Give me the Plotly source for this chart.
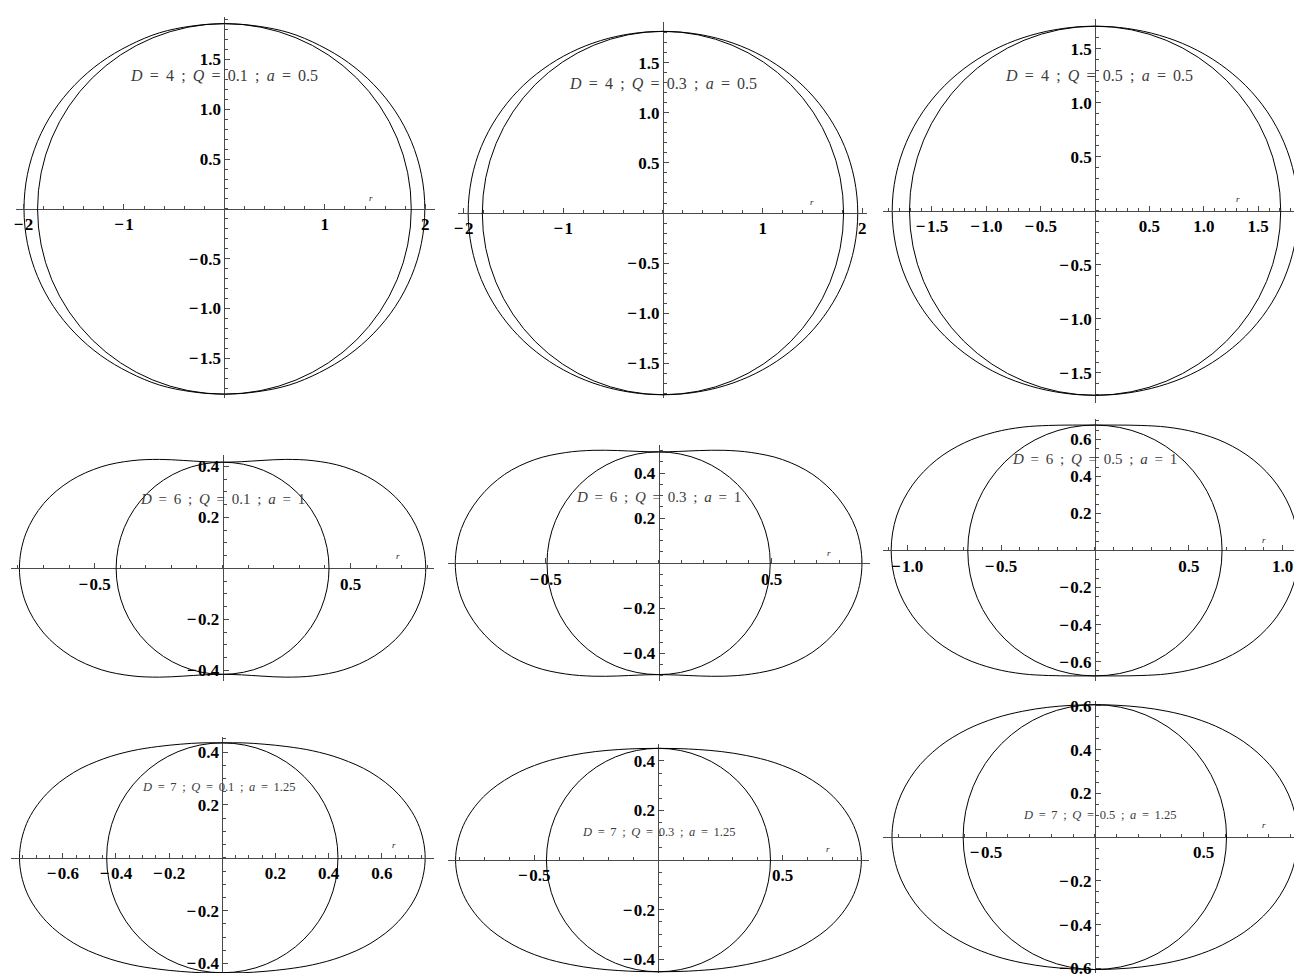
import plotly.graph_objects as go

# ---------------- data ----------------
D_VALUES = ["4", "4", "4", "6", "6", "6", "7", "7", "7"]
Q_VALUES = ["0.1", "0.3", "0.5", "0.1", "0.3", "0.5", "0.1", "0.3", "0.5"]
A_VALUES = ["0.5", "0.5", "0.5", "1", "1", "1", "1.25", "1.25", "1.25"]

# horizon (circle) radius per panel
HORIZON_R = [1.860, 1.812, 1.707, 0.416, 0.494, 0.677, 0.435, 0.451, 0.605]

# outer surface, first quadrant, from the pole (x=0) to the equator (y=0)
ERGO_X_1 = [0, 0.324, 0.644, 0.948, 1.233, 1.487, 1.700, 1.861, 1.961, 1.995]
ERGO_Y_1 = [1.860, 1.836, 1.769, 1.642, 1.470, 1.248, 0.982, 0.677, 0.346, 0]
ERGO_X_2 = [0, 0.316, 0.626, 0.925, 1.204, 1.454, 1.663, 1.822, 1.920, 1.954]
ERGO_Y_2 = [1.812, 1.789, 1.720, 1.602, 1.435, 1.220, 0.960, 0.663, 0.339, 0]
ERGO_X_3 = [0, 0.297, 0.591, 0.875, 1.142, 1.382, 1.584, 1.737, 1.833, 1.866]
ERGO_Y_3 = [1.707, 1.686, 1.623, 1.516, 1.361, 1.160, 0.915, 0.632, 0.323, 0]
ERGO_X_4 = [0, 0.074, 0.154, 0.247, 0.354, 0.474, 0.595, 0.699, 0.769, 0.794]
ERGO_Y_4 = [0.416, 0.418, 0.423, 0.427, 0.422, 0.398, 0.343, 0.254, 0.136, 0]
ERGO_X_5 = [0, 0.087, 0.182, 0.290, 0.412, 0.548, 0.682, 0.795, 0.873, 0.900]
ERGO_Y_5 = [0.494, 0.496, 0.500, 0.501, 0.491, 0.460, 0.394, 0.289, 0.154, 0]
ERGO_X_6 = [0, 0.119, 0.246, 0.384, 0.536, 0.694, 0.845, 0.971, 1.056, 1.085]
ERGO_Y_6 = [0.677, 0.677, 0.675, 0.666, 0.638, 0.582, 0.488, 0.354, 0.186, 0]
ERGO_X_7 = [0, 0.077, 0.157, 0.243, 0.340, 0.446, 0.559, 0.662, 0.736, 0.763]
ERGO_Y_7 = [0.435, 0.435, 0.430, 0.421, 0.405, 0.375, 0.323, 0.241, 0.130, 0]
ERGO_X_8 = [0, 0.079, 0.162, 0.253, 0.354, 0.468, 0.590, 0.704, 0.786, 0.817]
ERGO_Y_8 = [0.451, 0.450, 0.446, 0.438, 0.422, 0.393, 0.340, 0.256, 0.139, 0]
ERGO_X_9 = [0, 0.106, 0.216, 0.332, 0.456, 0.587, 0.715, 0.827, 0.904, 0.932]
ERGO_Y_9 = [0.605, 0.602, 0.593, 0.575, 0.544, 0.492, 0.413, 0.301, 0.159, 0]

ERGO_X = [ERGO_X_1, ERGO_X_2, ERGO_X_3, ERGO_X_4, ERGO_X_5, ERGO_X_6, ERGO_X_7, ERGO_X_8, ERGO_X_9]
ERGO_Y = [ERGO_Y_1, ERGO_Y_2, ERGO_Y_3, ERGO_Y_4, ERGO_Y_5, ERGO_Y_6, ERGO_Y_7, ERGO_Y_8, ERGO_Y_9]

# tick values / labels
X_TICKS = [
    [-2, -1, 1, 2], [-2, -1, 1, 2], [-1.5, -1.0, -0.5, 0.5, 1.0, 1.5],
    [-0.5, 0.5], [-0.5, 0.5], [-1.0, -0.5, 0.5, 1.0],
    [-0.6, -0.4, -0.2, 0.2, 0.4, 0.6], [-0.5, 0.5], [-0.5, 0.5],
]
X_TICK_FMT = ["{:.0f}", "{:.0f}", "{:.1f}", "{:.1f}", "{:.1f}", "{:.1f}", "{:.1f}", "{:.1f}", "{:.1f}"]
X_MINOR_STEP = [0.2, 0.2, 0.1, 0.1, 0.1, 0.1, 0.05, 0.1, 0.1]
Y_TICKS = [
    [-1.5, -1.0, -0.5, 0.5, 1.0, 1.5], [-1.5, -1.0, -0.5, 0.5, 1.0, 1.5], [-1.5, -1.0, -0.5, 0.5, 1.0, 1.5],
    [-0.4, -0.2, 0.2, 0.4], [-0.4, -0.2, 0.2, 0.4], [-0.6, -0.4, -0.2, 0.2, 0.4, 0.6],
    [-0.4, -0.2, 0.2, 0.4], [-0.4, -0.2, 0.2, 0.4], [-0.6, -0.4, -0.2, 0.2, 0.4, 0.6],
]
Y_MINOR_STEP = [0.1, 0.1, 0.1, 0.05, 0.05, 0.05, 0.05, 0.05, 0.05]

# ---------------- layout geometry ----------------
W, H = 1294, 978
GEOM = [
    dict(px=(12, 432), py=(13, 398), xr=(-2.075, 2.093), yr=(-1.902, 1.928)),
    dict(px=(455, 866), py=(18, 398), xr=(-2.06, 2.05), yr=(-1.848, 1.907)),
    dict(px=(882, 1294), py=(15, 403), xr=(-1.948, 1.829), yr=(-1.781, 1.775)),
    dict(px=(7, 431), py=(455, 683), xr=(-0.827, 0.825), yr=(-0.441, 0.445)),
    dict(px=(445, 869), py=(445, 683), xr=(-0.934, 0.937), yr=(-0.521, 0.525)),
    dict(px=(882, 1294), py=(419, 683), xr=(-1.127, 1.060), yr=(-0.703, 0.709)),
    dict(px=(7, 431), py=(740, 978), xr=(-0.795, 0.795), yr=(-0.436, 0.4565)),
    dict(px=(445, 868), py=(747, 978), xr=(-0.849, 0.849), yr=(-0.456, 0.468)),
    dict(px=(882, 1294), py=(703, 978), xr=(-0.972, 0.915), yr=(-0.621, 0.624)),
]
LABEL_POS = [(0, 1.344), (0, 1.29), (0.04, 1.247), (0, 0.271), (0, 0.295), (0, 0.493),
             (-0.015, 0.269), (0, 0.113), (0.02, 0.102)]
LABEL_SIZE = [16, 16, 16, 15, 15, 15, 12.5, 12.5, 12.5]
R_POS = [(1.46, 0.11), (1.5, 0.11), (1.31, 0.11), (0.684, 0.05), (0.756, 0.046), (0.899, 0.059),
         (0.647, 0.047), (0.683, 0.043), (0.778, 0.057)]

MINUS = "\u2212"
SERIF = "Liberation Serif"
AXIS_COLOR = "#4a4a4a"
SP = "\u00a0\u2009"


def closed_loop(xs, ys):
    q1x, q1y = list(xs), list(ys)
    q4x = list(xs[::-1])[1:]
    q4y = [-v for v in ys[::-1]][1:]
    q3x = [-v for v in xs][1:]
    q3y = [-v for v in ys][1:]
    q2x = [-v for v in xs[::-1]][1:]
    q2y = list(ys[::-1])[1:]
    return q1x + q4x + q3x + q2x, q1y + q4y + q3y + q2y


def fmt(v, f):
    s = f.format(abs(v))
    return (MINUS + "\u200a" + s) if v < 0 else s


def minor_vals(lo, hi, step):
    vals = []
    k = int(lo / step) - 1
    while k * step <= hi + 1e-9:
        v = round(k * step, 6)
        if lo <= v <= hi:
            vals.append(v)
        k += 1
    return vals


fig = go.Figure()
shapes = []
annotations = []
layout = {}

for i in range(9):
    g = GEOM[i]
    n = "" if i == 0 else str(i + 1)
    xa, ya = "x" + n, "y" + n
    xdom = [g["px"][0] / W, g["px"][1] / W]
    ydom = [1 - g["py"][1] / H, 1 - g["py"][0] / H]
    x0, x1 = g["xr"]
    y0, y1 = g["yr"]
    xpos = ydom[0] + (0 - y0) / (y1 - y0) * (ydom[1] - ydom[0])
    ypos = xdom[0] + (0 - x0) / (x1 - x0) * (xdom[1] - xdom[0])

    tickfont = dict(family=SERIF, size=17, color="black", weight="bold")
    layout["xaxis" + n] = dict(
        domain=xdom, range=[x0, x1], anchor="free", position=xpos,
        showgrid=False, zeroline=False, showline=True, linecolor=AXIS_COLOR, linewidth=1,
        ticks="inside", ticklen=5, tickwidth=1, tickcolor=AXIS_COLOR,
        tickmode="array", tickvals=X_TICKS[i],
        ticktext=[fmt(v, X_TICK_FMT[i]) for v in X_TICKS[i]],
        tickfont=tickfont, ticklabeloverflow="allow",
        minor=dict(ticks="inside", ticklen=3, tickwidth=1, tickcolor=AXIS_COLOR,
                   tickmode="array", tickvals=minor_vals(x0, x1, X_MINOR_STEP[i]), showgrid=False),
        fixedrange=True,
    )
    layout["yaxis" + n] = dict(
        domain=ydom, range=[y0, y1], anchor="free", position=ypos,
        showgrid=False, zeroline=False, showline=True, linecolor=AXIS_COLOR, linewidth=1,
        ticks="inside", ticklen=5, tickwidth=1, tickcolor=AXIS_COLOR,
        tickmode="array", tickvals=Y_TICKS[i],
        ticktext=[fmt(v, "{:.1f}") for v in Y_TICKS[i]],
        tickfont=tickfont, ticklabeloverflow="allow",
        minor=dict(ticks="inside", ticklen=3, tickwidth=1, tickcolor=AXIS_COLOR,
                   tickmode="array", tickvals=minor_vals(y0, y1, Y_MINOR_STEP[i]), showgrid=False),
        fixedrange=True,
    )

    lx, ly = closed_loop(ERGO_X[i], ERGO_Y[i])
    fig.add_trace(go.Scatter(
        x=lx, y=ly, mode="lines", xaxis=xa, yaxis=ya,
        line=dict(color="black", width=1, shape="spline", smoothing=1.0),
        hoverinfo="skip", showlegend=False,
    ))

    r = HORIZON_R[i]
    shapes.append(dict(type="circle", xref=xa, yref=ya, x0=-r, x1=r, y0=-r, y1=r,
                       line=dict(color="black", width=1), layer="above"))

    txt = (f"<i>D</i>{SP}={SP}{D_VALUES[i]}{SP};{SP}<i>Q</i>{SP}={SP}{Q_VALUES[i]}{SP};{SP}"
           f"<i>a</i>{SP}={SP}{A_VALUES[i]}")
    annotations.append(dict(
        x=LABEL_POS[i][0], y=LABEL_POS[i][1], xref=xa, yref=ya, text=txt,
        showarrow=False, xanchor="center", yanchor="middle",
        font=dict(family=SERIF, size=LABEL_SIZE[i], color="#3c3c3c"),
    ))
    annotations.append(dict(
        x=R_POS[i][0], y=R_POS[i][1], xref=xa, yref=ya, text="<i>r</i>",
        showarrow=False, xanchor="center", yanchor="middle",
        font=dict(family=SERIF, size=9, color="#222222"),
    ))

fig.update_layout(
    width=W, height=H,
    margin=dict(l=0, r=0, t=0, b=0),
    paper_bgcolor="white", plot_bgcolor="white",
    showlegend=False,
    shapes=shapes,
    annotations=annotations,
    **layout,
)

PAGE_CSS = "margin:0;padding:0;overflow:hidden;width:1294px;height:978px;"
fig.write_html(
    "out.html",
    config={"displayModeBar": False},
    post_script=(
        "document.documentElement.style.cssText='" + PAGE_CSS + "';"
        "document.body.style.cssText='" + PAGE_CSS + "';"
        "var gd=document.getElementById('{plot_id}');"
        "gd.style.overflow='hidden';"
        "if(gd.parentNode){gd.parentNode.style.cssText='" + PAGE_CSS + "';}"
    ),
)
